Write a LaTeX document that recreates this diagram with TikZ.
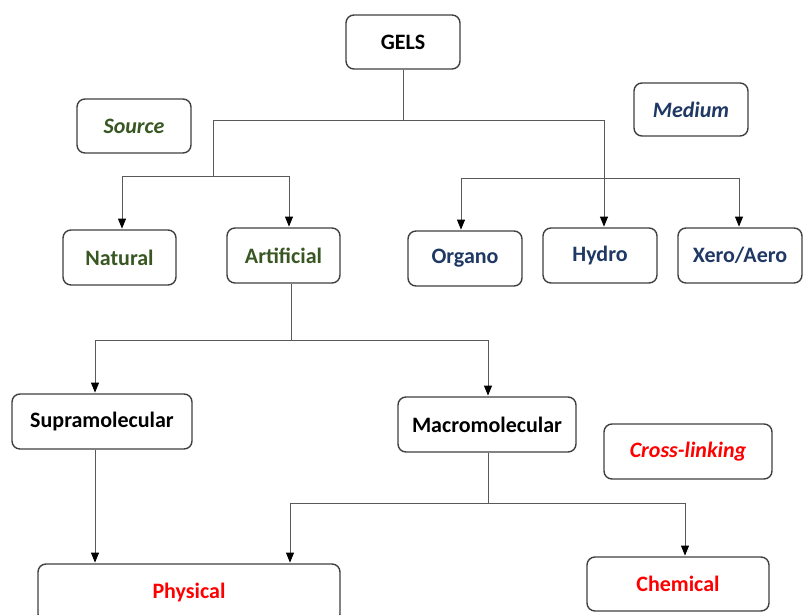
\documentclass[tikz,border=0pt]{standalone}
\usepackage{fontspec}
\setmainfont{Carlito}
\usetikzlibrary{arrows.meta}
\definecolor{bgreen}{RGB}{56,87,35}
\definecolor{bblue}{RGB}{31,56,100}
\definecolor{bred}{RGB}{255,0,0}
\definecolor{boxline}{RGB}{64,64,64}
\definecolor{conn}{RGB}{89,89,89}
\tikzset{
  box/.style={draw=boxline, line width=1.4pt, rounded corners=8pt, fill=white,
    inner sep=0pt, font=\fontsize{22}{26}\selectfont\bfseries},
  itbox/.style={box, font=\fontsize{22}{26}\selectfont\bfseries\itshape},
  link/.style={draw=conn, line width=0.9pt},
  arr/.style={link, -{Triangle[length=10pt,width=8pt,color=black]}, shorten >=0.7pt},
}
\begin{document}
\begin{tikzpicture}[x=1pt,y=-1pt]
\useasboundingbox (0,0) rectangle (803,615);
% nodes
\node[box, minimum width=114pt, minimum height=54pt] (gels) at (403,42) {GELS};
\node[itbox, minimum width=114pt, minimum height=54pt, text=bgreen] (source) at (134,126) {Source};
\node[itbox, minimum width=114pt, minimum height=53pt, text=bblue] (medium) at (691,109.5) {Medium};
\node[box, minimum width=113pt, minimum height=55pt, text=bgreen] (natural) at (119.5,257.5) {Natural};
\node[box, minimum width=113pt, minimum height=55pt, text=bgreen] (artificial) at (283.5,255.5) {Artificial};
\node[box, minimum width=114pt, minimum height=55pt, text=bblue] (organo) at (465,258.5) {Organo};
\node[box, minimum width=114pt, minimum height=55pt, text=bblue] (hydro) at (600,255.5) {Hydro};
\node[box, minimum width=124pt, minimum height=55pt, text=bblue] (xero) at (740,255.5) {Xero/Aero};
\node[box, minimum width=180pt, minimum height=55pt] (supra) at (102,421.5) {Supramolecular};
\node[box, minimum width=178pt, minimum height=55pt] (macro) at (487,424.5) {Macromolecular};
\node[itbox, minimum width=168pt, minimum height=55pt, text=bred] (cross) at (688,451.5) {Cross-linking};
\node[box, minimum width=302pt, minimum height=58pt, text=bred] (physical) at (189,593) {Physical};
\node[box, minimum width=182pt, minimum height=54pt, text=bred] (chemical) at (678,584) {Chemical};
% junctions
\coordinate (g1) at (403,120);
\coordinate (gL) at (213,120);
\coordinate (gR) at (604,120);
\coordinate (sL) at (122,176);
\coordinate (sR) at (289,176);
\coordinate (sM) at (213,176);
\coordinate (mL) at (461,178);
\coordinate (mR) at (739,178);
\coordinate (a1) at (291,340);
\coordinate (aL) at (95,340);
\coordinate (aR) at (488,340);
\coordinate (p1) at (95,449);
\coordinate (c1) at (488,503);
\coordinate (cL) at (290,503);
\coordinate (cR) at (685,503);
% connectors
\draw[link] (gels.south -| g1) -- (g1);
\draw[link] (gL) -- (gR);
\draw[link] (gL) -- (sM);
\draw[link] (sL) -- (sR);
\draw[arr] (sL) -- (sL |- natural.north);
\draw[arr] (sR) -- (sR |- artificial.north);
\draw[arr] (gR) -- (gR |- hydro.north);
\draw[link] (mL) -- (mR);
\draw[arr] (mL) -- (mL |- organo.north);
\draw[arr] (mR) -- (mR |- xero.north);
\draw[link] (artificial.south -| a1) -- (a1);
\draw[link] (aL) -- (aR);
\draw[arr] (aL) -- (aL |- supra.north);
\draw[arr] (aR) -- (aR |- macro.north);
\draw[arr] (supra.south -| p1) -- (p1 |- physical.north);
\draw[link] (macro.south -| c1) -- (c1);
\draw[link] (cL) -- (cR);
\draw[arr] (cL) -- (cL |- physical.north);
\draw[arr] (cR) -- (cR |- chemical.north);
\end{tikzpicture}
\end{document}
